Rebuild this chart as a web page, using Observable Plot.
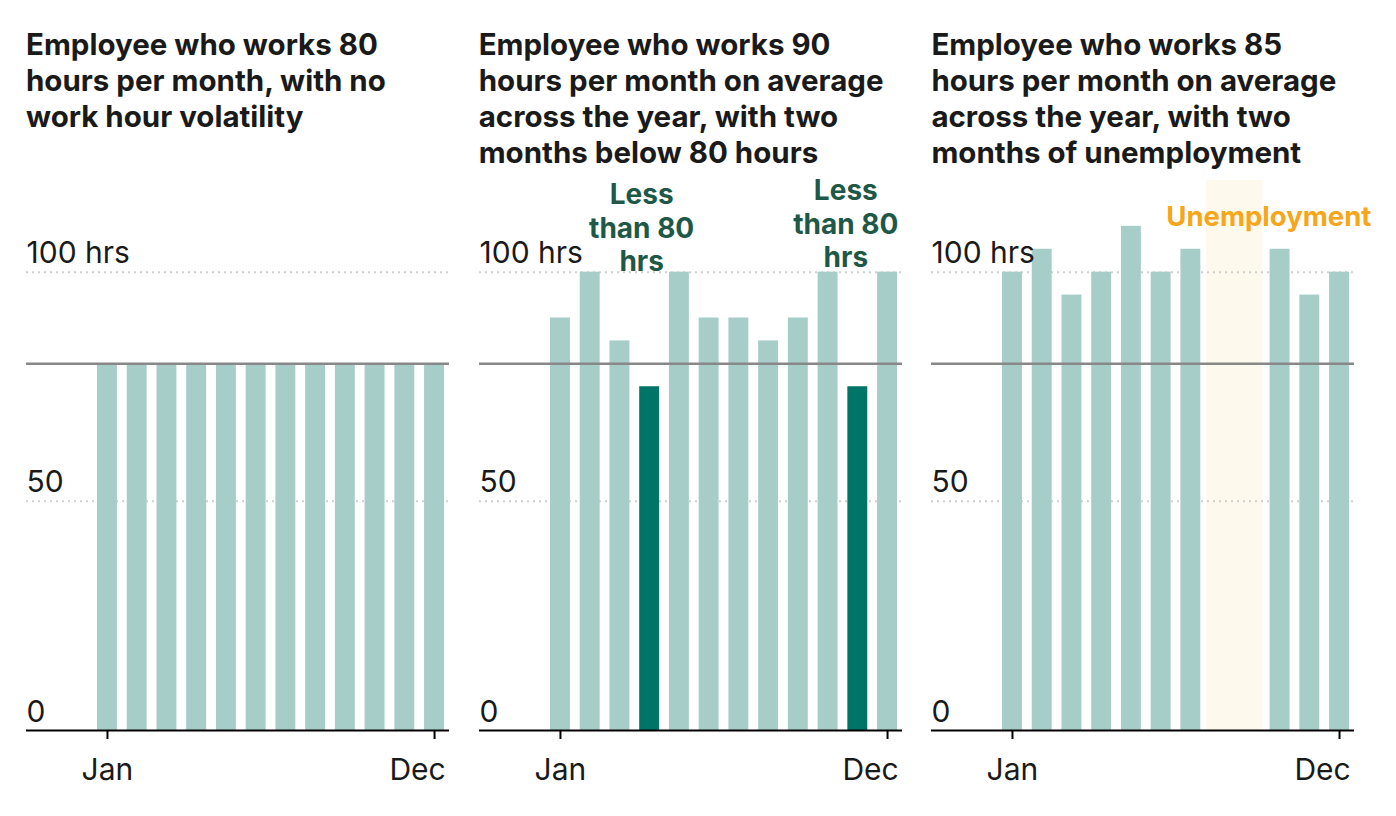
<!DOCTYPE html>
<html>
<head>
<meta charset="utf-8">
<script src="https://cdn.jsdelivr.net/npm/d3@7"></script>
<script src="https://cdn.jsdelivr.net/npm/@observablehq/plot@0.6"></script>
<style>
  body { margin: 0; background: #fff; font-family: Inter, "Noto Sans", sans-serif; }
  .row { display: flex; gap: 29.7px; padding-left: 26px; padding-top: 26px; }
  .panel { width: 423px; }
  .title { font: 700 29.5px/36px Inter, sans-serif; color: #1a1a1a; height: 154px; white-space: pre; }
  svg { overflow: visible; }
</style>
</head>
<body>
<div class="row" id="row"></div>
<script>
const months = ["Jan","Feb","Mar","Apr","May","Jun","Jul","Aug","Sep","Oct","Nov","Dec"];
const hours1 = [80, 80, 80, 80, 80, 80, 80, 80, 80, 80, 80, 80];
const hours2 = [90, 100, 85, 75, 100, 90, 90, 85, 90, 100, 75, 100];
const hours3 = [100, 105, 95, 100, 110, 100, 105, 0, 0, 105, 95, 100];
const titles = [
  "Employee who works 80\nhours per month, with no\nwork hour volatility",
  "Employee who works 90\nhours per month on average\nacross the year, with two\nmonths below 80 hours",
  "Employee who works 85\nhours per month on average\nacross the year, with two\nmonths of unemployment"
];
const yTicks = [0, 50, 100];
const xTicks = ["Jan", "Dec"];
const threshold = 80;
const belowMonths = ["Apr", "Nov"];
const belowLabel = "Less\nthan 80\nhrs";
const unemployedMonths = ["Aug", "Sep"];
const unemploymentLabel = "Unemployment";

const LIGHT = "#a7cdc8", DARK = "#007567", INK = "#1a1a1a";

function rows(values) { return months.map((m, i) => ({month: m, hours: values[i]})); }

function basePlot(values, extraBefore, extraAfter, highlight) {
  const data = rows(values);
  return Plot.plot({
    width: 423, height: 610,
    marginLeft: 0, marginRight: 0, marginTop: 0, marginBottom: 60,
    style: {fontFamily: "Inter, sans-serif", overflow: "visible", color: INK},
    x: {domain: months, paddingInner: 0.33, paddingOuter: 0, round: false, insetLeft: 71, insetRight: 5, axis: null},
    y: {domain: [0, 120], axis: null},
    marks: [
      ...extraBefore,
      Plot.ruleY([50, 100], {stroke: "#cfcfcf", strokeWidth: 2, strokeDasharray: "2,4"}),
      Plot.barY(data, {x: "month", y: "hours", fill: d => highlight && highlight.includes(d.month) ? DARK : LIGHT}),
      Plot.ruleY([threshold], {stroke: "#888888", strokeWidth: 2.5}),
      Plot.ruleY([0], {stroke: "#000", strokeWidth: 2}),
      Plot.axisX({ticks: xTicks, tickSize: 9, strokeWidth: 2, stroke: "#000", text: null, label: null}),
      Plot.text([xTicks[0]], {x: d => d, text: d => d, frameAnchor: "bottom", lineAnchor: "top", dy: 28, fontSize: 30, fill: INK}),
      Plot.text([xTicks[1]], {x: d => d, text: d => d, frameAnchor: "bottom", lineAnchor: "top", dx: -17, dy: 28, fontSize: 30, fill: INK}),
      Plot.text(yTicks, {y: d => d, text: d => d === 100 ? "100 hrs" : String(d), frameAnchor: "left", textAnchor: "start", lineAnchor: "bottom", dy: -9, fontSize: 30, fill: INK}),
      ...extraAfter
    ]
  });
}

const charts = [
  basePlot(hours1, [], [], null),
  basePlot(hours2, [], [
    Plot.text([belowMonths[0]], {x: d => d, y: 100, text: () => belowLabel, lineAnchor: "bottom", lineHeight: 1.2, dx: -8, dy: -1, fontSize: 28, fontWeight: 700, fill: "#1e5846"}),
    Plot.text([belowMonths[1]], {x: d => d, y: 100, text: () => belowLabel, lineAnchor: "bottom", lineHeight: 1.2, dx: -12, dy: -5, fontSize: 28, fontWeight: 700, fill: "#1e5846"})
  ], belowMonths),
  basePlot(hours3, [
    Plot.barY([unemployedMonths[0]], {x: d => d, y: 120, fill: "#fef9ed", insetLeft: -4, insetRight: -5.5}),
    Plot.barY([unemployedMonths[1]], {x: d => d, y: 120, fill: "#fef9ed", insetLeft: -5.5, insetRight: -2.5})
  ], [
    Plot.text([unemployedMonths[1]], {x: d => d, y: 110, text: () => unemploymentLabel, lineAnchor: "bottom", dx: 18.5, dy: 0, fontSize: 27.5, fontWeight: 700, fill: "#f8a619"})
  ], null)
];

const row = document.getElementById("row");
charts.forEach((c, i) => {
  const p = document.createElement("div");
  p.className = "panel";
  const t = document.createElement("div");
  t.className = "title";
  t.textContent = titles[i];
  p.appendChild(t);
  p.appendChild(c);
  row.appendChild(p);
});
</script>
</body>
</html>
